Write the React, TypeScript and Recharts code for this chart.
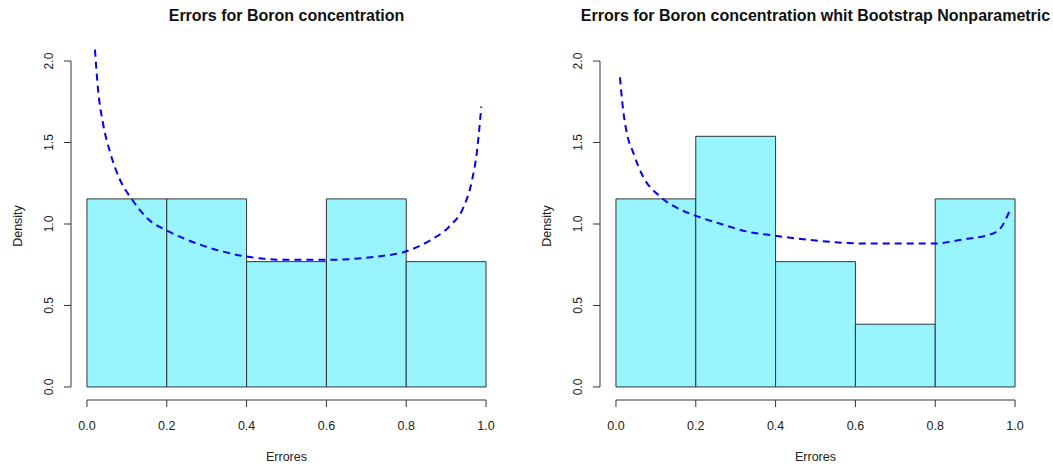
import React from 'react';
import { ComposedChart, Line, XAxis, YAxis, ReferenceArea, ReferenceLine } from 'recharts';

// histogram bins (density scale, n = 13, bin width 0.2)
const binEdges = [0, 0.2, 0.4, 0.6, 0.8, 1.0];
const rawDensity = [1.154, 1.154, 0.769, 1.154, 0.769];
const bootDensity = [1.154, 1.538, 0.769, 0.385, 1.154];

// fitted density curves
const rawCurveX = [0.02, 0.028, 0.04, 0.058, 0.083, 0.113, 0.158, 0.2, 0.276, 0.4, 0.5, 0.6, 0.727, 0.797, 0.86, 0.91, 0.943, 0.965, 0.977, 0.983, 0.988];
const rawCurveY = [2.07, 1.82, 1.62, 1.44, 1.27, 1.15, 1.02, 0.96, 0.88, 0.8, 0.78, 0.78, 0.8, 0.83, 0.9, 0.99, 1.1, 1.27, 1.44, 1.58, 1.72];
const bootCurveX = [0.01, 0.018, 0.027, 0.043, 0.068, 0.11, 0.16, 0.2, 0.25, 0.336, 0.393, 0.494, 0.63, 0.795, 0.88, 0.93, 0.962, 0.988];
const bootCurveY = [1.9, 1.7, 1.56, 1.44, 1.29, 1.17, 1.09, 1.05, 1.01, 0.95, 0.93, 0.9, 0.88, 0.88, 0.91, 0.93, 0.97, 1.09];

const xTicks = [0, 0.2, 0.4, 0.6, 0.8, 1.0];
const yTicks = [0, 0.5, 1.0, 1.5, 2.0];

const FONT = '"Liberation Sans", Arial, sans-serif';
const AXIS = '#333';

const YTick = ({ x, y, payload }: any) => (
  <text
    x={x - 9}
    y={y}
    transform={`rotate(-90 ${x - 9} ${y})`}
    textAnchor="middle"
    fontSize={12}
    fontFamily={FONT}
    fill="#222"
  >
    {payload.value.toFixed(1)}
  </text>
);

interface PanelProps {
  left: number;
  width: number;
  marginLeft: number;
  title: string;
  density: number[];
  curveX: number[];
  curveY: number[];
}

function HistPanel({ left, width, marginLeft, title, density, curveX, curveY }: PanelProps) {
  const curve = curveX.map((x, i) => ({ x, y: curveY[i] }));
  const plotW = 431;
  const cx = left + marginLeft + plotW / 2;
  return (
    <>
      <div style={{ position: 'absolute', left: cx - 300, width: 600, top: 6, textAlign: 'center', fontFamily: FONT, fontWeight: 'bold', fontSize: 16, lineHeight: '20px', color: '#111' }}>
        {title}
      </div>
      <div style={{ position: 'absolute', left: cx - 100, width: 200, top: 449, textAlign: 'center', fontFamily: FONT, fontSize: 12.5, lineHeight: '16px', color: '#222' }}>
        Errores
      </div>
      <div style={{ position: 'absolute', left: left + marginLeft - 53 - 50, width: 100, top: 226 - 8, height: 16, textAlign: 'center', fontFamily: FONT, fontSize: 12.5, lineHeight: '16px', color: '#222', transform: 'rotate(-90deg)' }}>
        Density
      </div>
      <div style={{ position: 'absolute', left, top: 0 }}>
        <ComposedChart
          width={width}
          height={467}
          data={curve}
          margin={{ top: 48, bottom: 0, left: 0, right: width - marginLeft - plotW }}
        >
          <XAxis
            dataKey="x"
            type="number"
            domain={[-0.04, 1.04]}
            ticks={xTicks}
            interval={0}
            height={67}
            axisLine={false}
            tickSize={7}
            tickMargin={14}
            tickLine={{ stroke: AXIS }}
            tick={{ fill: '#222', fontSize: 12.5, fontFamily: FONT }}
            tickFormatter={(v: number) => v.toFixed(1)}
            allowDataOverflow
          />
          <YAxis
            type="number"
            domain={[-0.08, 2.08]}
            ticks={yTicks}
            interval={0}
            width={marginLeft}
            axisLine={false}
            tickSize={7}
            tickLine={{ stroke: AXIS }}
            tick={<YTick />}
            allowDataOverflow
          />
          {density.map((d, i) => (
            <ReferenceArea
              key={i}
              x1={binEdges[i]}
              x2={binEdges[i + 1]}
              y1={0}
              y2={d}
              fill="#98F5FF"
              fillOpacity={1}
              stroke={AXIS}
              strokeWidth={1}
              ifOverflow="visible"
            />
          ))}
          <ReferenceLine segment={[{ x: 0, y: -0.08 }, { x: 1, y: -0.08 }]} stroke={AXIS} ifOverflow="visible" />
          <ReferenceLine segment={[{ x: -0.04, y: 0 }, { x: -0.04, y: 2 }]} stroke={AXIS} ifOverflow="visible" />
          <Line
            dataKey="y"
            type="monotone"
            stroke="#0000FF"
            strokeWidth={2}
            strokeDasharray="7 5"
            dot={false}
            activeDot={false}
            isAnimationActive={false}
          />
        </ComposedChart>
      </div>
    </>
  );
}

export default function App() {
  return (
    <div style={{ position: 'absolute', left: 0, top: 0, width: 1053, height: 467, background: '#fff' }}>
      <HistPanel
        left={0}
        width={526}
        marginLeft={71}
        title="Errors for Boron concentration"
        density={rawDensity}
        curveX={rawCurveX}
        curveY={rawCurveY}
      />
      <HistPanel
        left={526}
        width={527}
        marginLeft={74}
        title="Errors for Boron concentration whit Bootstrap Nonparametric"
        density={bootDensity}
        curveX={bootCurveX}
        curveY={bootCurveY}
      />
    </div>
  );
}
